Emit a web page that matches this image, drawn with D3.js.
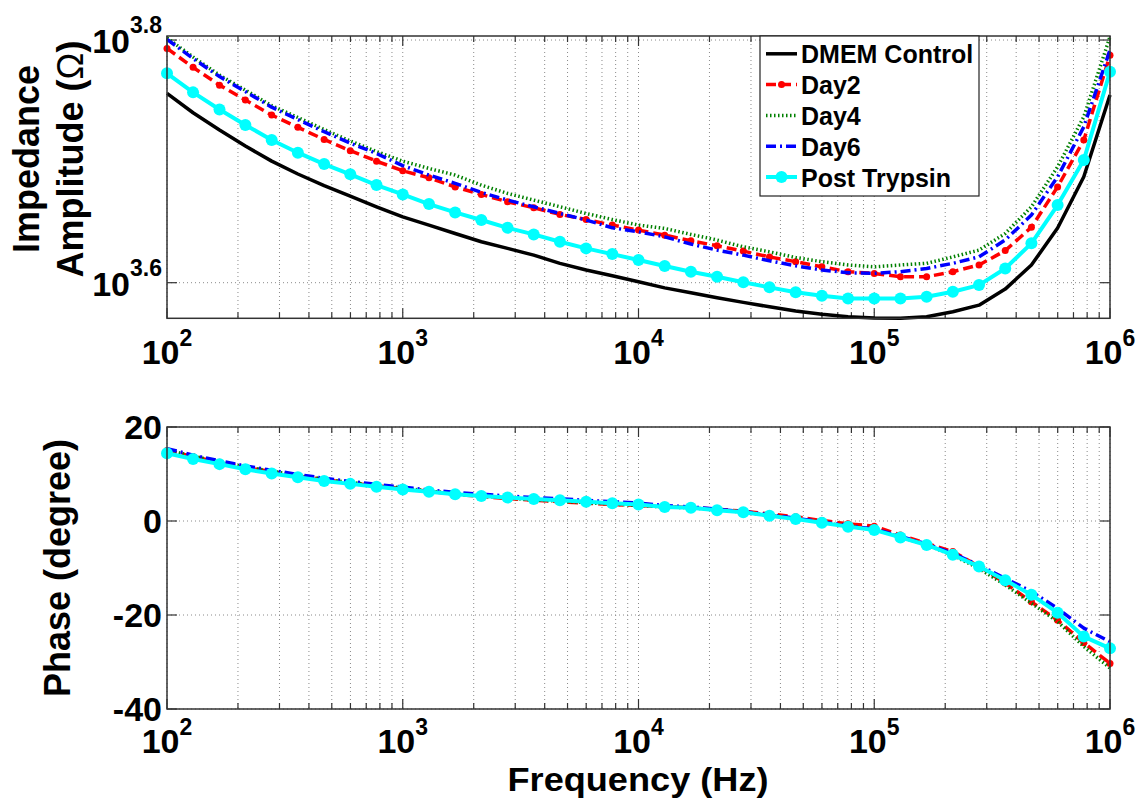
<!DOCTYPE html>
<html>
<head>
<meta charset="utf-8">
<script src="https://cdn.jsdelivr.net/npm/d3@7/dist/d3.min.js"></script>
<style>
  body { margin: 0; background: #fff; }
  text { font-family: "Liberation Sans", Arial, sans-serif; font-weight: bold; fill: #000; }
</style>
</head>
<body>
<svg id="chart" width="1142" height="799"></svg>
<script>
// frequencies (Hz), 37 points from 1e2 to 1e6
var freqs = [100, 129, 167, 215, 278, 359, 464, 599, 774, 1000, 1292, 1668, 2154,
  2783, 3594, 4642, 5995, 7743, 10000, 12915, 16681, 21544, 27826, 35938, 46416,
  59948, 77426, 100000, 129155, 166810, 215443, 278256, 359381, 464159, 599484,
  774264, 1000000];

// impedance amplitude (ohm)
var impDMEM = [5702, 5496, 5319, 5160, 5014, 4893, 4786, 4692, 4598, 4511, 4441,
  4371, 4303, 4249, 4195, 4130, 4078, 4034, 3988, 3942, 3906, 3869, 3835, 3803,
  3773, 3749, 3732, 3723, 3721, 3732, 3768, 3815, 3933, 4117, 4416, 4867, 5684];
var impDay2 = [6210, 5991, 5792, 5630, 5473, 5346, 5225, 5114, 5014, 4923, 4858,
  4775, 4707, 4642, 4589, 4532, 4488, 4441, 4399, 4357, 4311, 4270, 4227, 4181,
  4143, 4103, 4065, 4052, 4026, 4026, 4065, 4117, 4231, 4423, 4775, 5219, 6130];
var impDay4 = [6334, 6110, 5903, 5738, 5571, 5447, 5324, 5209, 5106, 5014, 4945,
  4883, 4791, 4716, 4657, 4598, 4540, 4488, 4441, 4413, 4363, 4317, 4262, 4221,
  4176, 4143, 4117, 4103, 4117, 4130, 4181, 4235, 4371, 4598, 4960, 5455, 6350];
var impDay6 = [6318, 6092, 5887, 5722, 5555, 5426, 5302, 5189, 5087, 4972, 4883,
  4807, 4725, 4657, 4598, 4540, 4484, 4418, 4385, 4343, 4284, 4235, 4195, 4150,
  4111, 4078, 4057, 4052, 4065, 4090, 4130, 4181, 4317, 4526, 4867, 5352, 6191];
var impTrypsin = [5923, 5713, 5530, 5370, 5219, 5095, 4986, 4890, 4791, 4707, 4622,
  4549, 4484, 4418, 4363, 4303, 4249, 4203, 4156, 4109, 4065, 4026, 3984, 3946,
  3909, 3883, 3864, 3864, 3864, 3876, 3913, 3963, 4090, 4290, 4613, 5024, 5941];

// phase (degree)
var phaseDay2 = [15.0, 13.7, 12.5, 11.4, 10.5, 9.6, 8.8, 8.1, 7.5, 6.9, 6.3, 5.7,
  5.2, 4.8, 4.4, 4.1, 3.8, 3.5, 3.3, 3.0, 2.9, 2.5, 2.1, 1.5, 0.9, 0.1, -0.6, -1.1,
  -3.0, -4.8, -6.5, -9.7, -13.2, -17.2, -21.1, -25.9, -30.3];
var phaseDay4 = [15.1, 13.8, 12.6, 11.5, 10.6, 9.7, 8.9, 8.2, 7.6, 7.0, 6.4, 5.8,
  5.3, 4.9, 4.5, 4.2, 3.9, 3.6, 3.3, 3.0, 2.8, 2.4, 1.9, 1.2, 0.5, -0.3, -1.1, -1.8,
  -3.4, -5.1, -7.3, -10.1, -13.6, -17.5, -21.4, -26.7, -31.3];
var phaseDay6 = [15.4, 14.0, 12.8, 11.7, 10.8, 9.9, 9.1, 8.4, 7.8, 7.2, 6.6, 6.1,
  5.7, 5.3, 5.0, 4.7, 4.4, 4.1, 3.8, 3.3, 3.0, 2.5, 2.0, 1.3, 0.6, -0.2, -1.0, -1.7,
  -3.3, -4.9, -6.9, -9.4, -12.2, -15.0, -18.6, -22.8, -25.7];
var phaseTrypsin = [14.4, 13.2, 12.1, 11.0, 10.1, 9.3, 8.5, 7.9, 7.3, 6.7, 6.2, 5.7,
  5.3, 5.0, 4.7, 4.4, 4.1, 3.8, 3.5, 3.0, 2.8, 2.3, 1.85, 1.1, 0.4, -0.35, -1.2, -1.9,
  -3.5, -5.1, -7.2, -9.7, -12.6, -15.7, -19.5, -24.6, -27.1];

// tick labels
var freqExps = [2, 3, 4, 5, 6];
var impExps = [3.6, 3.8];
var phaseTicks = [-40, -20, 0, 20];

var legendNames = ['DMEM Control', 'Day2', 'Day4', 'Day6', 'Post Trypsin'];

var svg = d3.select('#chart');

// plot areas
var PX0 = 167, PX1 = 1110;
var TOP = { y0: 36, y1: 318.3 };
var BOT = { y0: 427, y1: 709 };

var x = d3.scaleLog().domain([1e2, 1e6]).range([PX0, PX1]);
var yImp = d3.scaleLog().domain([3721, 6358]).range([TOP.y1, TOP.y0]);
var yPh = d3.scaleLinear().domain([-40, 20]).range([BOT.y1, BOT.y0]);

// series styles
var styles = {
  black: { color: '#000', width: 3.5, dash: null },
  red: { color: '#ff0000', width: 3.5, dash: '10,5' },
  green: { color: '#008000', width: 3.5, dash: '1.5,2.5' },
  blue: { color: '#0000ff', width: 3.5, dash: '10,4,2,4' },
  cyan: { color: '#00ffff', width: 4, dash: null }
};

function zip(vals) {
  return freqs.map(function(f, i) { return { f: f, v: vals[i] }; });
}

function drawFrame(g, y, area, hTicks) {
  var minor = x.ticks();
  // grid
  g.selectAll('.vgrid').data(minor).enter().append('line')
    .attr('x1', function(d) { return x(d); }).attr('x2', function(d) { return x(d); })
    .attr('y1', area.y0).attr('y2', area.y1)
    .attr('stroke', '#8a8a8a').attr('stroke-width', 1).attr('stroke-dasharray', '1,3');
  g.selectAll('.hgrid').data(hTicks).enter().append('line')
    .attr('x1', PX0).attr('x2', PX1)
    .attr('y1', function(d) { return y(d); }).attr('y2', function(d) { return y(d); })
    .attr('stroke', '#8a8a8a').attr('stroke-width', 1).attr('stroke-dasharray', '1,3');
  // inner ticks
  minor.forEach(function(d) {
    var major = Math.abs(Math.log10(d) - Math.round(Math.log10(d))) < 1e-6;
    var len = major ? 10 : 6;
    g.append('line').attr('x1', x(d)).attr('x2', x(d))
      .attr('y1', area.y1).attr('y2', area.y1 - len)
      .attr('stroke', '#333').attr('stroke-width', 1.2);
    g.append('line').attr('x1', x(d)).attr('x2', x(d))
      .attr('y1', area.y0).attr('y2', area.y0 + len)
      .attr('stroke', '#333').attr('stroke-width', 1.2);
  });
  hTicks.forEach(function(d) {
    g.append('line').attr('x1', PX0).attr('x2', PX0 + 10)
      .attr('y1', y(d)).attr('y2', y(d)).attr('stroke', '#333').attr('stroke-width', 1.2);
    g.append('line').attr('x1', PX1).attr('x2', PX1 - 10)
      .attr('y1', y(d)).attr('y2', y(d)).attr('stroke', '#333').attr('stroke-width', 1.2);
  });
}

function drawLine(g, y, vals, st) {
  var line = d3.line().x(function(d) { return x(d.f); }).y(function(d) { return y(d.v); });
  g.append('path').datum(zip(vals))
    .attr('d', line).attr('fill', 'none')
    .attr('stroke', st.color).attr('stroke-width', st.width)
    .attr('stroke-dasharray', st.dash)
    .attr('stroke-linejoin', 'round');
}

function drawDots(g, y, vals, color, r) {
  g.selectAll(null).data(zip(vals)).enter().append('circle')
    .attr('cx', function(d) { return x(d.f); })
    .attr('cy', function(d) { return y(d.v); })
    .attr('r', r).attr('fill', color);
}

function drawBox(g, area) {
  g.append('rect').attr('x', PX0).attr('y', area.y0)
    .attr('width', PX1 - PX0).attr('height', area.y1 - area.y0)
    .attr('fill', 'none').attr('stroke', '#333').attr('stroke-width', 1.5);
}

function freqLabels(g, area, off) {
  freqExps.forEach(function(e) {
    var t = g.append('text').attr('x', x(Math.pow(10, e))).attr('y', area.y1 + off)
      .attr('text-anchor', 'middle').style('font-size', '34px');
    t.append('tspan').text('10');
    t.append('tspan').attr('dy', -18).style('font-size', '23px').text(e);
  });
}

// ---------- top: impedance ----------
var gTop = svg.append('g');
var impTickVals = impExps.map(function(e) { return Math.pow(10, e); });
drawFrame(gTop, yImp, TOP, impTickVals);

drawLine(gTop, yImp, impDMEM, styles.black);
drawLine(gTop, yImp, impDay2, styles.red);
drawDots(gTop, yImp, impDay2, styles.red.color, 3.5);
drawLine(gTop, yImp, impDay4, styles.green);
drawLine(gTop, yImp, impDay6, styles.blue);
drawLine(gTop, yImp, impTrypsin, styles.cyan);
drawDots(gTop, yImp, impTrypsin, styles.cyan.color, 6);
drawBox(gTop, TOP);

impExps.forEach(function(e) {
  var t = gTop.append('text').attr('x', 162).attr('y', yImp(Math.pow(10, e)) + 13)
    .attr('text-anchor', 'end').style('font-size', '34px');
  t.append('tspan').text('10');
  t.append('tspan').attr('dy', -20).style('font-size', '23px').text(e);
});
freqLabels(gTop, TOP, 46);

gTop.append('text').attr('transform', 'translate(39,159) rotate(-90)')
  .attr('text-anchor', 'middle').style('font-size', '36px').text('Impedance');
var amp = gTop.append('text').attr('transform', 'translate(83,159) rotate(-90)')
  .attr('text-anchor', 'middle').style('font-size', '36px');
amp.append('tspan').text('Amplitude (');
amp.append('tspan').style('font-weight', 'normal').text('\u03A9');
amp.append('tspan').text(')');

// legend
var LG = { x: 760, y: 36, w: 219, h: 160, row: 30.8 };
var lg = gTop.append('g');
lg.append('rect').attr('x', LG.x).attr('y', LG.y).attr('width', LG.w).attr('height', LG.h)
  .attr('fill', '#fff').attr('stroke', '#222').attr('stroke-width', 1.2);
var legendStyles = [styles.black, styles.red, styles.green, styles.blue, styles.cyan];
legendNames.forEach(function(name, i) {
  var by = LG.y + 27.3 + i * LG.row;
  var st = legendStyles[i];
  lg.append('line').attr('x1', LG.x + 6).attr('x2', LG.x + 37)
    .attr('y1', by - 9.5).attr('y2', by - 9.5)
    .attr('stroke', st.color).attr('stroke-width', st.width)
    .attr('stroke-dasharray', st.dash);
  if (i === 1) lg.append('circle').attr('cx', LG.x + 21.5).attr('cy', by - 9.5).attr('r', 3.5).attr('fill', st.color);
  if (i === 4) lg.append('circle').attr('cx', LG.x + 21.5).attr('cy', by - 9.5).attr('r', 6).attr('fill', st.color);
  lg.append('text').attr('x', LG.x + 41).attr('y', by).style('font-size', '25px').text(name);
});

// ---------- bottom: phase ----------
var gBot = svg.append('g');
drawFrame(gBot, yPh, BOT, phaseTicks);
drawLine(gBot, yPh, phaseDay2, styles.red);
drawDots(gBot, yPh, phaseDay2, styles.red.color, 3.5);
drawLine(gBot, yPh, phaseDay4, styles.green);
drawLine(gBot, yPh, phaseDay6, styles.blue);
drawLine(gBot, yPh, phaseTrypsin, styles.cyan);
drawDots(gBot, yPh, phaseTrypsin, styles.cyan.color, 6);
drawBox(gBot, BOT);

phaseTicks.forEach(function(d) {
  gBot.append('text').attr('x', 162).attr('y', yPh(d) + 12)
    .attr('text-anchor', 'end').style('font-size', '34px').text(d);
});
freqLabels(gBot, BOT, 44);

gBot.append('text').attr('transform', 'translate(70,568) rotate(-90)')
  .attr('text-anchor', 'middle').style('font-size', '36px').text('Phase (degree)');
gBot.append('text').attr('x', 638).attr('y', 791)
  .attr('text-anchor', 'middle').style('font-size', '34px')
  .attr('textLength', 261).attr('lengthAdjust', 'spacingAndGlyphs')
  .text('Frequency (Hz)');
</script>
</body>
</html>
